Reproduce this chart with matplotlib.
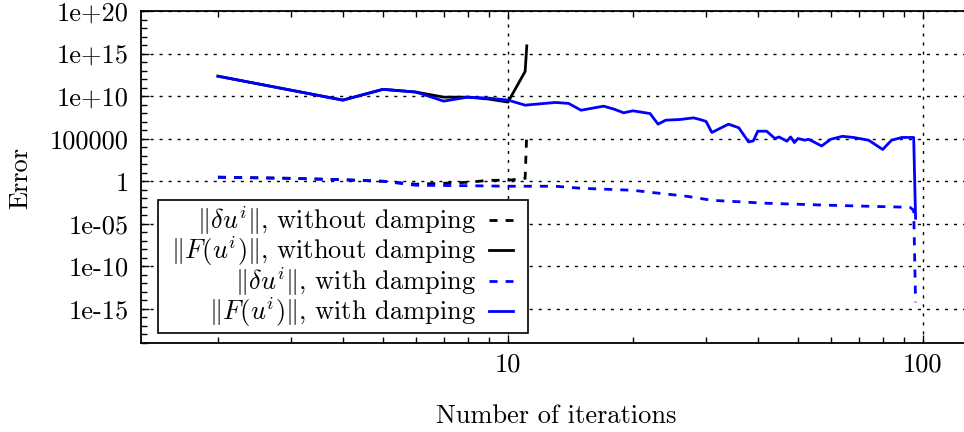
import matplotlib
matplotlib.use("Agg")
import matplotlib.pyplot as plt
from matplotlib.ticker import FixedLocator, FixedFormatter, NullFormatter
from matplotlib.legend_handler import HandlerLine2D

plt.rcParams['font.family'] = ['cmr10', 'DejaVu Serif']
plt.rcParams['mathtext.fontset'] = 'cm'
plt.rcParams['axes.unicode_minus'] = False
plt.rcParams['axes.formatter.use_mathtext'] = True

# ---- data ----
iters_nodamp = [2, 3, 4, 5, 6, 7, 8, 9, 10, 11, 11.1]
du_nodamp = [3.0, 2.2, 1.5, 1.0, 0.45, 0.58, 0.76, 1.3, 1.3, 2.2, 5.8e5]
F_nodamp = [2.2e12, 5e10, 3.4e9, 6.3e10, 3e10, 7.6e9, 7.6e9, 4.5e9, 2e9, 8e12, 8e15]

iters_du_damp = [2, 3, 4, 5, 6, 8, 10, 13, 15, 20, 22, 27, 31, 42, 60, 93, 95, 96]
du_damp = [3.0, 2.2, 1.5, 1.0, 0.34, 0.3, 0.26, 0.26, 0.15, 0.087, 0.051, 0.017,
           5.8e-3, 2.6e-3, 1.5e-3, 8.7e-4, 4e-4, 6e-15]

iters_F_damp = [2, 3, 4, 5, 6, 7, 8, 9, 10, 11, 13, 14, 15, 16, 17, 18, 19, 20, 22,
                23, 24, 26, 28, 29, 30, 31, 34, 36, 38, 39, 40, 42, 44, 45, 47, 48,
                49, 50, 52, 53, 57, 60, 64, 68, 74, 80, 84, 89, 95, 96]
F_damp = [2.2e12, 5e10, 3.4e9, 6.3e10, 3e10, 2.6e9, 7.6e9, 5.8e9, 3.4e9, 8.7e8,
          1.8e9, 1.4e9, 2.2e8, 3.9e8, 6.6e8, 3e8, 1.1e8, 1.9e8, 9e7,
          5.1e6, 1.5e7, 1.8e7, 2.8e7, 1.8e7, 1.1e7, 5.4e5, 5.1e6, 1.9e6, 4.2e4,
          5.5e4, 7.6e5, 7.6e5, 1.05e5, 1.6e5, 5.1e4, 1.6e5, 3.5e4, 1.05e5, 6.6e4,
          8.7e4, 1.4e4, 8.7e4, 1.9e5, 1.4e5, 6.6e4, 5.4e3, 6.6e4, 1.4e5, 1.4e5, 4.5e-5]

labels = [r'$\hspace{0.42}\|\delta u^i\|$, without damping',
          r'$\hspace{0.42}\|F(u^i)\|$, without damping',
          r'$\hspace{0.42}\|\delta u^i\|$, with damping',
          r'$\hspace{0.42}\|F(u^i)\|$, with damping']

ytick_vals = [1e-15, 1e-10, 1e-5, 1, 1e5, 1e10, 1e15, 1e20]
ytick_labels = ['1e-15', '1e-10', '1e-05', '1', '100000', '1e+10', '1e+15', '1e+20']
xtick_vals = [10, 100]
xtick_labels = ['10', '100']

# ---- figure ----
W, H = 964, 432
fig = plt.figure(figsize=(W / 100, H / 100), dpi=100)
L, R, T, B = 141, 964, 11, 343
ax = fig.add_axes([L / W, 1 - B / H, (R - L) / W, (B - T) / H])
ax.set_xscale('log')
ax.set_yscale('log')

dash = (0, (2.9, 2.9))
lw = 2.0
l1, = ax.plot(iters_nodamp, du_nodamp, color='black', lw=lw, linestyle=dash, label=labels[0])
l2, = ax.plot(iters_nodamp, F_nodamp, color='black', lw=lw, label=labels[1])
l3, = ax.plot(iters_du_damp, du_damp, color='blue', lw=lw, linestyle=dash, label=labels[2])
l4, = ax.plot(iters_F_damp, F_damp, color='blue', lw=lw, label=labels[3])

ax.set_xlim(1.305, 125.6)
ax.set_ylim(1e-19, 1e20)

fs = 19
ax.yaxis.set_major_locator(FixedLocator(ytick_vals))
ax.yaxis.set_major_formatter(FixedFormatter(ytick_labels))
ax.yaxis.set_minor_locator(FixedLocator([10.0 ** k for k in range(-19, 21)]))
ax.yaxis.set_minor_formatter(NullFormatter())
ax.xaxis.set_major_locator(FixedLocator(xtick_vals))
ax.xaxis.set_major_formatter(FixedFormatter(xtick_labels))
ax.xaxis.set_minor_locator(FixedLocator([m * d for d in (1, 10, 100) for m in range(2, 10)]))
ax.xaxis.set_minor_formatter(NullFormatter())

ax.tick_params(which='both', direction='in', top=True, right=False, color='black', width=1.0)
ax.tick_params(which='major', length=6)
ax.tick_params(which='minor', length=4)
ax.tick_params(axis='y', which='major', pad=9, labelsize=fs)
ax.tick_params(axis='x', which='major', pad=7, labelsize=fs)

for s in ('left', 'bottom', 'top'):
    ax.spines[s].set_linewidth(1.3)
ax.spines['right'].set_visible(False)

ax.grid(True, which='major', color='black', lw=1.0, linestyle=(0, (2.2, 4.3)))
ax.set_axisbelow(True)

fig.text(20 / W, 1 - 178 / H, 'Error', rotation=90, ha='center', va='center', fontsize=fs)
fig.text(556 / W, 1 - 423 / H, 'Number of iterations', ha='center', va='baseline', fontsize=fs)

hmap = {l: HandlerLine2D(marker_pad=0.42, numpoints=2) for l in (l1, l2, l3, l4)}
leg = ax.legend(loc='lower left', bbox_to_anchor=((158 - L) / (R - L), (B - 333) / (B - T)),
                borderaxespad=0, markerfirst=False,
                handlelength=0.9 + 2 * 0.42, handletextpad=0.5 - 0.42,
                fancybox=False, framealpha=1, edgecolor='black', borderpad=0.15,
                labelspacing=-0.1, fontsize=fs, handler_map=hmap)
leg.get_frame().set_linewidth(1.2)

fig.savefig('out.png', dpi=100)
